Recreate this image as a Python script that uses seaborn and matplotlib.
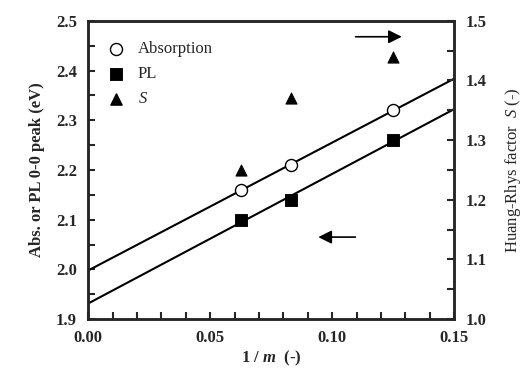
import numpy as np
import pandas as pd
import matplotlib
matplotlib.use("Agg")
import matplotlib.pyplot as plt
import seaborn as sns
from matplotlib.ticker import MultipleLocator

# Data
inv_m = [1 / 16, 1 / 12, 1 / 8]
absorption = [2.16, 2.21, 2.32]
pl = [2.10, 2.14, 2.26]
huang_rhys = [1.25, 1.37, 1.44]

df = pd.DataFrame({"inv_m": inv_m, "abs": absorption, "pl": pl, "S": huang_rhys})

sns.set_style("ticks")
plt.rcParams["font.family"] = ["Liberation Serif", "DejaVu Serif"]
plt.rcParams["mathtext.fontset"] = "custom"
plt.rcParams["mathtext.it"] = "Liberation Serif:italic"
plt.rcParams["mathtext.bfit"] = "Liberation Serif:italic:bold"

fig, ax = plt.subplots(figsize=(5.28, 3.79), dpi=100)
fig.subplots_adjust(left=0.167, right=0.86, top=0.945, bottom=0.158)

ax.set_xlim(0, 0.15)
ax.set_ylim(1.9, 2.5)
ax2 = ax.twinx()
ax2.set_ylim(1.0, 1.5)

# fit lines through the data, extended over the full x range
sns.regplot(data=df, x="inv_m", y="abs", ax=ax, ci=None, scatter=False,
            truncate=False, color="black", line_kws={"lw": 1.5})
sns.regplot(data=df, x="inv_m", y="pl", ax=ax, ci=None, scatter=False,
            truncate=False, color="black", line_kws={"lw": 1.5})

sns.scatterplot(data=df, x="inv_m", y="abs", ax=ax, marker="o", s=75,
                facecolor="white", edgecolor="black", linewidth=1, zorder=5,
                label="Absorption")
sns.scatterplot(data=df, x="inv_m", y="pl", ax=ax, marker="s", s=65,
                color="black", edgecolor="black", zorder=5, label="PL")
sns.scatterplot(data=df, x="inv_m", y="S", ax=ax2, marker="^", s=65,
                color="black", edgecolor="black", zorder=5, legend=False)
ax.scatter([], [], marker="^", s=65, color="black", label="$S$")

ax.set_xlim(0, 0.15)
ax.set_ylim(1.9, 2.5)
ax2.set_ylim(1.0, 1.5)

ax.xaxis.set_major_locator(MultipleLocator(0.05))
ax.xaxis.set_minor_locator(MultipleLocator(0.01))
ax.yaxis.set_major_locator(MultipleLocator(0.1))
ax.yaxis.set_minor_locator(MultipleLocator(0.05))
ax2.yaxis.set_major_locator(MultipleLocator(0.1))
ax2.yaxis.set_minor_locator(MultipleLocator(0.05))
ax.xaxis.set_major_formatter(matplotlib.ticker.FormatStrFormatter("%.2f"))
ax.yaxis.set_major_formatter(matplotlib.ticker.FormatStrFormatter("%.1f"))
ax2.yaxis.set_major_formatter(matplotlib.ticker.FormatStrFormatter("%.1f"))

for a in (ax, ax2):
    a.tick_params(which="both", direction="in", length=5, width=1.5,
                  labelsize=12, pad=8)
    for sp in a.spines.values():
        sp.set_linewidth(1.8)
        sp.set_visible(True)
ax.tick_params(axis="y", which="both", right=False)
ax.tick_params(axis="x", which="both", top=False)
for lbl in ax.get_xticklabels() + ax.get_yticklabels() + ax2.get_yticklabels():
    lbl.set_fontweight("bold")

ax.set_xlabel(r"1 / $\boldsymbol{m}$  (-)", fontsize=12, fontweight="bold", labelpad=2)
ax.set_ylabel("Abs. or PL 0-0 peak (eV)", fontsize=12, fontweight="bold", labelpad=8)
ax2.set_ylabel("Huang-Rhys factor  $S$ (-)", fontsize=12, labelpad=12)

leg = ax.legend(loc="upper left", bbox_to_anchor=(0.035, 0.955), frameon=False,
                fontsize=12, handletextpad=0.8, borderaxespad=0, labelspacing=0.55,
                handlelength=1.0)

# direction arrows
ax.annotate("", xy=(0.1297, 2.468), xytext=(0.1085, 2.468),
            arrowprops=dict(arrowstyle="-|>", color="black", lw=1.2, mutation_scale=20))
ax.annotate("", xy=(0.0932, 2.065), xytext=(0.1107, 2.065),
            arrowprops=dict(arrowstyle="-|>", color="black", lw=1.2, mutation_scale=20))

fig.savefig("out.png", dpi=100)
